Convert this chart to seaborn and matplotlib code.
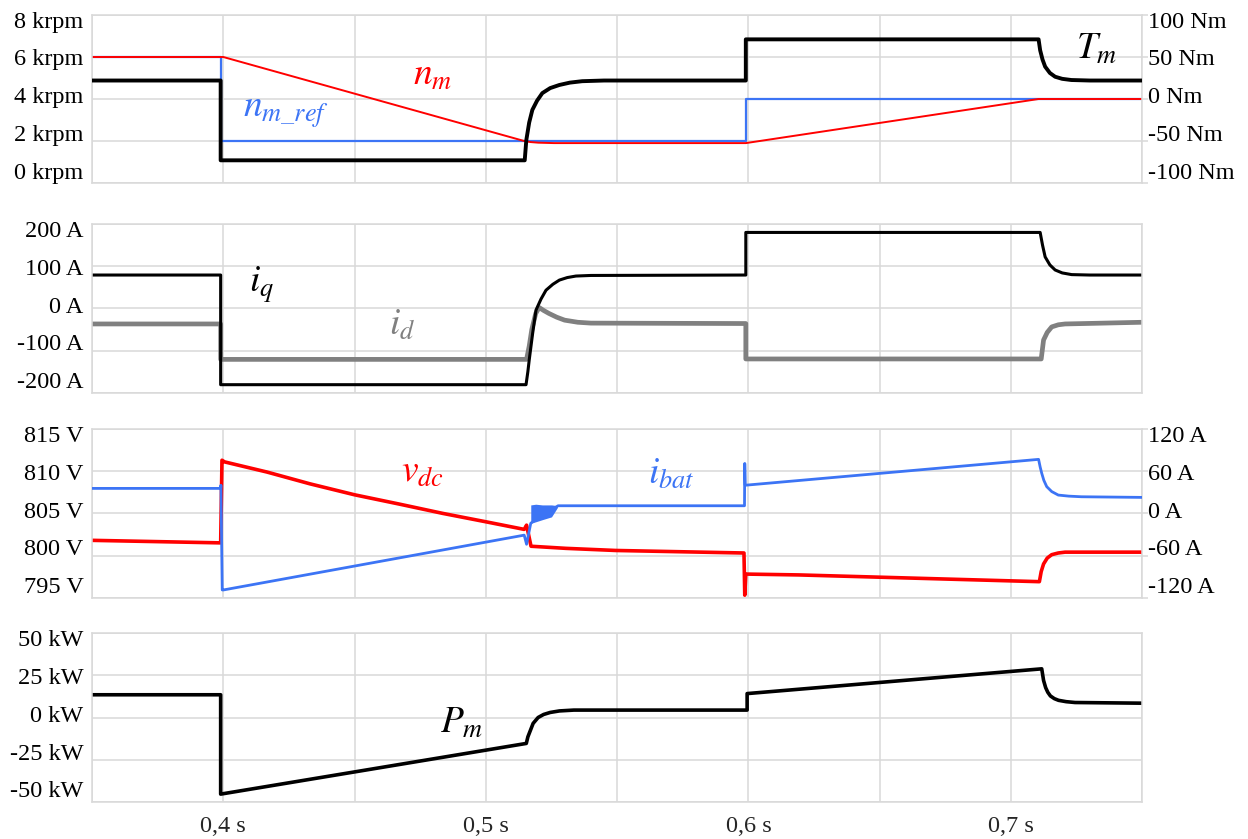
import pandas as pd
import matplotlib
matplotlib.use("Agg")
import matplotlib.pyplot as plt
import seaborn as sns

# ---- panel 1: speed (krpm, left) and torque (Nm, right)
t_nref = [0.35, 0.399, 0.399, 0.599, 0.599, 0.75]
n_ref = [6.0, 6.0, 2.0, 2.0, 4.0, 4.0]
t_nm = [0.35, 0.400, 0.5146, 0.517, 0.520, 0.526, 0.599, 0.7105, 0.75]
n_m = [6.0, 6.0, 2.0, 1.95, 1.92, 1.90, 1.90, 4.0, 4.0]
t_tm = [0.35, 0.399, 0.399, 0.5148, 0.5154, 0.5165, 0.5177, 0.5195, 0.5215, 0.5245,
        0.528, 0.532, 0.5367, 0.545, 0.599,
        0.599, 0.7105, 0.7111, 0.712, 0.713, 0.7148, 0.7168, 0.7195, 0.723, 0.73, 0.75]
T_m = [22, 22, -73, -73, -49, -28, -13, -2, 7, 13,
       16.7, 19.5, 21.2, 22, 22,
       71, 71, 58, 47, 38.5, 31, 26.5, 24, 22.6, 22, 22]

# ---- panel 2: dq currents (A)
t_iq = [0.35, 0.399, 0.399, 0.5153, 0.516, 0.5165, 0.5178, 0.5191, 0.521, 0.5229,
        0.5255, 0.528, 0.531, 0.5343, 0.540, 0.599,
        0.599, 0.7111, 0.712, 0.713, 0.7148, 0.7168, 0.7195, 0.7231, 0.73, 0.75]
i_q = [79, 79, -181, -181, -150, -123, -60, -4, 22, 43,
       57, 67, 73, 76.6, 78, 79,
       180, 180, 150, 122, 103, 91, 84, 80, 79, 79]
t_id = [0.35, 0.399, 0.399, 0.5155, 0.5165, 0.5175, 0.519, 0.5203, 0.522, 0.524,
        0.527, 0.530, 0.535, 0.540, 0.599,
        0.599, 0.7115, 0.7124, 0.7138, 0.7155, 0.718, 0.7206, 0.75]
i_d = [-37, -37, -121, -121, -90, -50, -12, 2, -5, -12,
       -21, -28, -33, -35, -36,
       -120, -120, -75, -57, -44, -39, -37, -33]

# ---- panel 3: dc-link voltage (V, left) and battery current (A, right)
t_vdc = [0.35, 0.399, 0.3995, 0.4005, 0.4166, 0.433, 0.45, 0.467, 0.4835, 0.50,
         0.5146, 0.5155, 0.5172, 0.5305, 0.5494, 0.5983, 0.5986, 0.5990, 0.6192,
         0.7108, 0.7115, 0.7124, 0.7138, 0.7155, 0.718, 0.7206, 0.75]
v_dc = [801.8, 801.5, 811.3, 811.1, 809.9, 808.5, 807.2, 806.1, 805.0, 804.0,
        803.1, 803.6, 801.1, 800.85, 800.6, 800.3, 795.3, 797.8, 797.7,
        796.9, 798.1, 799.0, 799.7, 800.1, 800.3, 800.4, 800.4]
t_bat = [0.35, 0.399, 0.3991, 0.3996, 0.400, 0.5146, 0.5155, 0.5171,
         0.5275, 0.5985, 0.5986, 0.5988, 0.7105, 0.7111, 0.7117, 0.7125, 0.7136,
         0.7155, 0.718, 0.722, 0.7268, 0.75]
i_bat = [35.5, 35.5, 40, -109, -109, -31, -44, -14,
         10.8, 10.8, 71, 40, 76.8, 66, 57, 47, 38,
         31, 26, 24.5, 23.6, 22.7]
t_band = [0.5171, 0.519, 0.5215, 0.525, 0.5272]
band_lo = [-14, -12, -9, -5, 8]
band_hi = [12, 13, 12, 12, 11]

# ---- panel 4: mechanical power (kW)
t_pm = [0.35, 0.399, 0.399, 0.5154, 0.516, 0.5169, 0.518, 0.5199, 0.522, 0.5245,
        0.528, 0.5335, 0.5995,
        0.5995, 0.7117, 0.7124, 0.7132, 0.714, 0.715, 0.7165, 0.7181, 0.721, 0.7244, 0.75]
P_m = [13.5, 13.5, -45.5, -15.4, -11.5, -7.9, -3.5, 0, 1.8, 3,
       3.9, 4.4, 4.4,
       14.2, 28.9, 22, 17.7, 15, 12.8, 11.2, 10.2, 9.4, 8.9, 8.5]

x_grid = [0.35, 0.40, 0.45, 0.50, 0.55, 0.60, 0.65, 0.70, 0.75]
x_ticks = [0.4, 0.5, 0.6, 0.7]
x_labels = ["0,4 s", "0,5 s", "0,6 s", "0,7 s"]

krpm_ticks = [0, 2, 4, 6, 8]
krpm_labels = ["0 krpm", "2 krpm", "4 krpm", "6 krpm", "8 krpm"]
nm_ticks = [-100, -50, 0, 50, 100]
nm_labels = ["-100 Nm", "-50 Nm", "0 Nm", "50 Nm", "100 Nm"]
amp_ticks = [-200, -100, 0, 100, 200]
amp_labels = ["-200 A", "-100 A", "0 A", "100 A", "200 A"]
volt_ticks = [795, 800, 805, 810, 815]
volt_labels = ["795 V", "800 V", "805 V", "810 V", "815 V"]
bat_ticks = [-120, -60, 0, 60, 120]
bat_labels = ["-120 A", "-60 A", "0 A", "60 A", "120 A"]
kw_ticks = [-50, -25, 0, 25, 50]
kw_labels = ["-50 kW", "-25 kW", "0 kW", "25 kW", "50 kW"]

RED = "#ff0000"
BLUE = "#3c74f5"
GRAY = "#808080"
GRID = "#d9d9d9"

sns.set_theme(style="white")
plt.rcParams["font.family"] = ["Liberation Serif", "DejaVu Serif"]
plt.rcParams["mathtext.fontset"] = "stix"
FS = 17.5


def line(ax, t, y, color, lw):
    df = pd.DataFrame({"t": t, "y": y})
    sns.lineplot(data=df, x="t", y="y", ax=ax, color=color, linewidth=lw,
                 estimator=None, sort=False, legend=False)
    ax.set_xlabel("")
    ax.set_ylabel("")


def side_labels(ax, ticks, labels, side):
    lo, hi = ticks[0], ticks[-1]
    for v, s in zip(ticks, labels):
        f = 0.058 + 0.9 * (v - lo) / (hi - lo)
        if side == "left":
            ax.text(-0.008, f, s, transform=ax.transAxes, ha="right",
                    va="center", fontsize=FS, color="black")
        else:
            ax.text(1.005, f, s, transform=ax.transAxes, ha="left",
                    va="center", fontsize=FS, color="black")


def setup(ax, ticks, labels, last=False):
    ax.set_xlim(0.35, 0.75)
    ax.set_ylim(ticks[0], ticks[-1])
    ax.set_yticks(ticks)
    ax.set_yticklabels([])
    ax.set_xticks(x_grid, minor=True)
    ax.set_xticks(x_ticks)
    if last:
        ax.set_xticklabels(x_labels, fontsize=FS)
    else:
        ax.set_xticklabels([])
    ax.tick_params(axis="both", which="both", length=0, pad=10)
    ax.grid(True, which="both", axis="x", color=GRID, linewidth=1.1)
    ax.grid(True, which="major", axis="y", color=GRID, linewidth=1.1)
    ax.set_axisbelow(True)
    for sp in ax.spines.values():
        sp.set_color(GRID)
        sp.set_linewidth(1.1)
    side_labels(ax, ticks, labels, "left")


def twin(ax, ticks, labels):
    ax2 = ax.twinx()
    ax2.set_ylim(ticks[0], ticks[-1])
    ax2.set_yticks(ticks)
    ax2.set_yticklabels([])
    ax2.tick_params(axis="y", length=4, color=GRID, width=1.1)
    ax2.grid(False)
    for sp in ax2.spines.values():
        sp.set_visible(False)
    side_labels(ax2, ticks, labels, "right")
    return ax2


fig = plt.figure(figsize=(12.48, 8.39), dpi=100)
L = 92 / 1248
W = (1142.3 - 92) / 1248
boxes = [(15, 183), (224, 392.7), (429, 597.7), (633.3, 801.7)]
axes = [fig.add_axes([L, 1 - b / 839, W, (b - t) / 839]) for t, b in boxes]

# panel 1
ax = axes[0]
setup(ax, krpm_ticks, krpm_labels)
line(ax, t_nref, n_ref, BLUE, 1.6)
line(ax, t_nm, n_m, RED, 1.4)
ax2 = twin(ax, nm_ticks, nm_labels)
line(ax2, t_tm, T_m, "black", 2.8)
ax2.set_xlim(0.35, 0.75)
ax.text(0.4721, 4.67, r"$n_m$", color=RED, fontsize=27, va="baseline")
ax.text(0.4074, 3.14, r"$n_{m\_ref}$", color=BLUE, fontsize=27, va="baseline")
ax.text(0.7249, 5.89, r"$T_m$", color="black", fontsize=27, va="baseline")

# panel 2
ax = axes[1]
setup(ax, amp_ticks, amp_labels)
line(ax, t_id, i_d, GRAY, 3.4)
line(ax, t_iq, i_q, "black", 2.2)
ax.text(0.4097, 39.4, r"$i_q$", color="black", fontsize=27, va="baseline")
ax.text(0.4633, -63.3, r"$i_d$", color=GRAY, fontsize=27, va="baseline")

# panel 3
ax = axes[2]
setup(ax, volt_ticks, volt_labels)
line(ax, t_vdc, v_dc, RED, 2.6)
ax2 = twin(ax, bat_ticks, bat_labels)
line(ax2, t_bat, i_bat, BLUE, 2.0)
ax2.fill_between(t_band, band_lo, band_hi, color=BLUE, linewidth=0)
ax2.set_xlim(0.35, 0.75)
ax.text(0.4678, 808.7, r"$v_{dc}$", color=RED, fontsize=27, va="baseline")
ax.text(0.5619, 808.55, r"$i_{bat}$", color=BLUE, fontsize=27, va="baseline")

# panel 4
ax = axes[3]
setup(ax, kw_ticks, kw_labels, last=True)
line(ax, t_pm, P_m, "black", 2.6)
ax.text(0.4826, -9.0, r"$P_m$", color="black", fontsize=27, va="baseline")

fig.savefig("out.png", dpi=100)
